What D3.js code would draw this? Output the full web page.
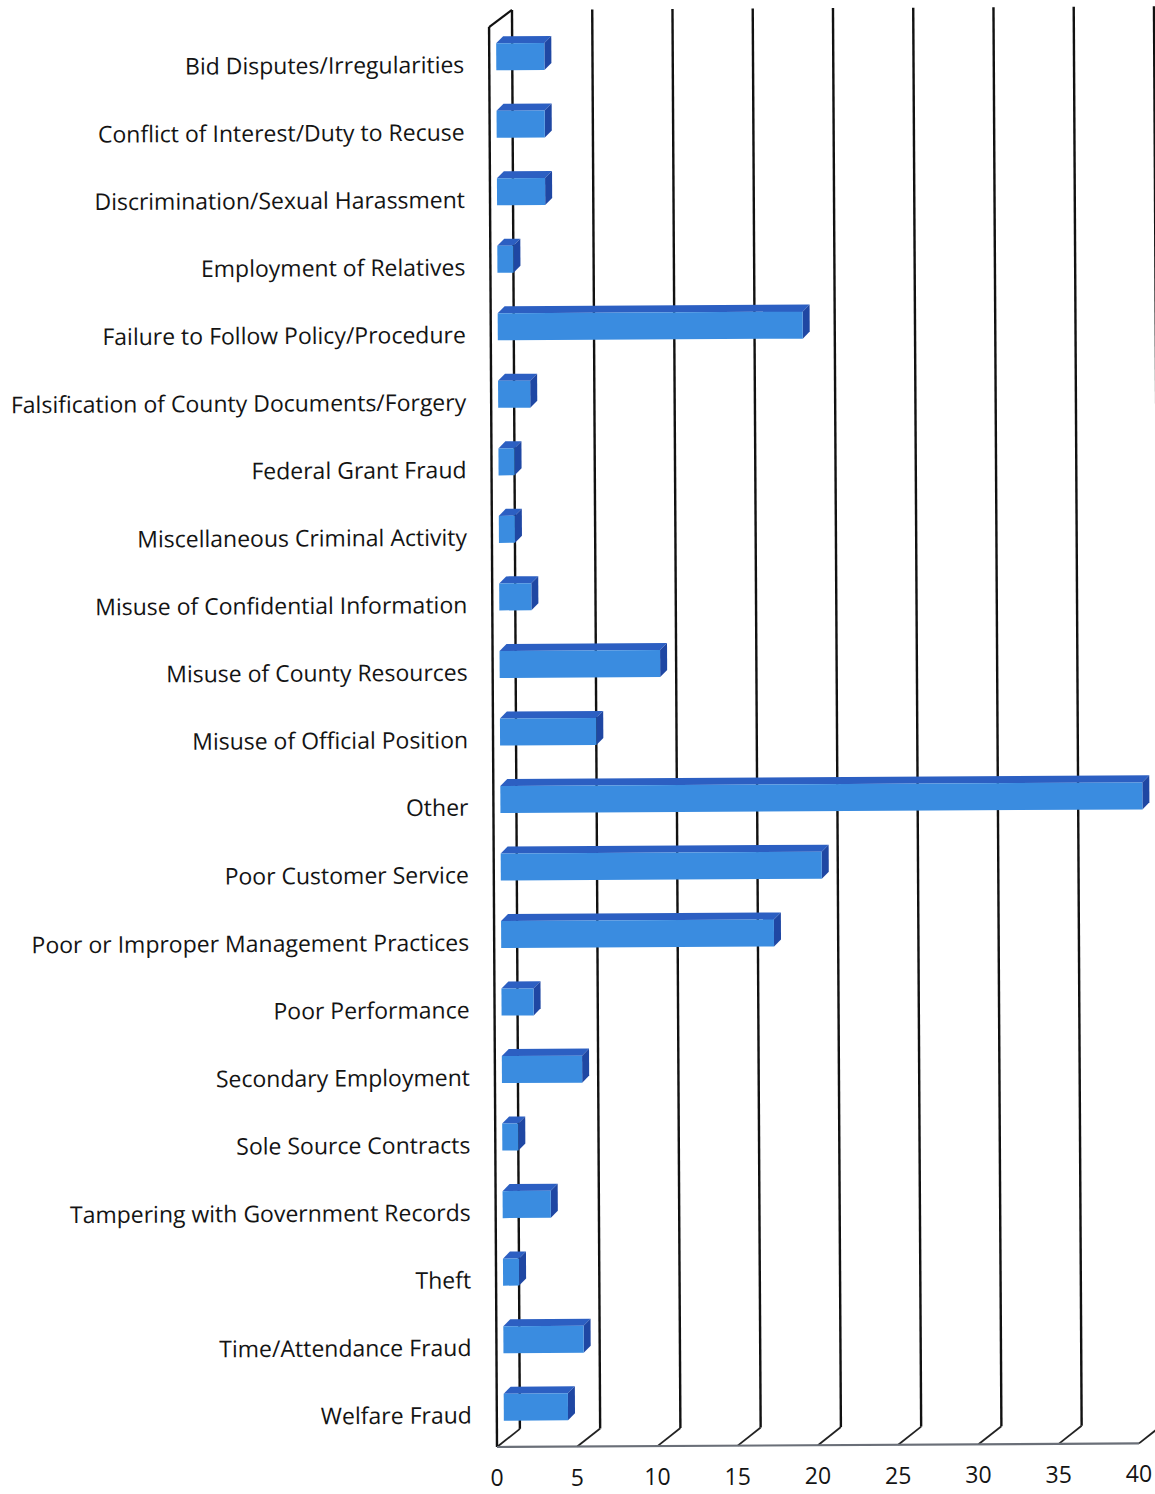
<!DOCTYPE html>
<html>
<head>
<meta charset="utf-8">
<script src="https://cdnjs.cloudflare.com/ajax/libs/d3/7.8.5/d3.min.js"></script>
<style>
  body { margin: 0; background: #fff; }
  .cat { font-family: "Open Sans", Lato, sans-serif; font-size: 23px; fill: #141414; }
  .tick-lbl { font-family: "Open Sans", Lato, sans-serif; font-size: 23px; fill: #141414; }
</style>
</head>
<body>
<div class="plot"></div>
<script>
// categories, top to bottom
const categories = [
  "Bid Disputes/Irregularities",
  "Conflict of Interest/Duty to Recuse",
  "Discrimination/Sexual Harassment",
  "Employment of Relatives",
  "Failure to Follow Policy/Procedure",
  "Falsification of County Documents/Forgery",
  "Federal Grant Fraud",
  "Miscellaneous Criminal Activity",
  "Misuse of Confidential Information",
  "Misuse of County Resources",
  "Misuse of Official Position",
  "Other",
  "Poor Customer Service",
  "Poor or Improper Management Practices",
  "Poor Performance",
  "Secondary Employment",
  "Sole Source Contracts",
  "Tampering with Government Records",
  "Theft",
  "Time/Attendance Fraud",
  "Welfare Fraud"
];
const counts = [3, 3, 3, 1, 19, 2, 1, 1, 2, 10, 6, 40, 20, 17, 2, 5, 1, 3, 1, 5, 4];
const tickValues = [0, 5, 10, 15, 20, 25, 30, 35, 40];

const W = 1155, H = 1494;
// wall depth (back wall sits up and right of the floor front edge)
const wallDx = 23, wallDy = -18;
// bar depth
const barDx = 7, barDy = -7;
// bars stand a little behind the floor front edge
const barShift = 7;
// scan tilt in degrees
const tilt = -0.32;

let svg = d3.select(".plot")
  .append("svg")
  .attr("width", W)
  .attr("height", H);

// whole plot slightly tilted like the scanned page
let g = svg.append("g")
  .attr("transform", "translate(497,1447) rotate(" + tilt + ")");

let xScale = d3.scaleLinear()
  .domain([0, 40])
  .range([0, 642]);

let yScale = d3.scaleBand()
  .domain(categories)
  .range([-1424, -6])
  .paddingInner(0.6)
  .paddingOuter(0.3);

// back wall gridlines + floor diagonals
let grid = g.append("g").attr("class", "grid");
tickValues.forEach(function(t){
  let x = xScale(t);
  grid.append("line")
    .attr("x1", x + wallDx).attr("x2", x + wallDx)
    .attr("y1", -1437).attr("y2", wallDy)
    .attr("stroke", "#111").attr("stroke-width", 2.4);
  grid.append("line")
    .attr("x1", x + wallDx).attr("y1", wallDy)
    .attr("x2", x).attr("y2", 0)
    .attr("stroke", "#222").attr("stroke-width", 1.8);
});

// left side wall
grid.append("line")
  .attr("x1", 0).attr("x2", 0)
  .attr("y1", -1420).attr("y2", 0)
  .attr("stroke", "#111").attr("stroke-width", 2.4);
grid.append("line")
  .attr("x1", 0).attr("y1", -1420)
  .attr("x2", wallDx).attr("y2", -1437)
  .attr("stroke", "#111").attr("stroke-width", 2.2);

// floor front edge
grid.append("line")
  .attr("x1", 0).attr("x2", xScale(40))
  .attr("y1", 0).attr("y2", 0)
  .attr("stroke", "#6a6f78").attr("stroke-width", 2.2);

// bars
let bars = g.selectAll(".bar")
  .data(categories.map(function(c, i){ return {name: c, value: counts[i]}; }))
  .enter()
  .append("g")
  .attr("class", "bar");

bars.each(function(d){
  let b = d3.select(this);
  let x0 = xScale(0) + barShift, x1 = xScale(d.value) + barShift;
  let y0 = yScale(d.name), h = yScale.bandwidth();
  // top face
  b.append("path")
    .attr("d", "M" + x0 + "," + y0 + "L" + (x0 + barDx) + "," + (y0 + barDy) +
               "L" + (x1 + barDx) + "," + (y0 + barDy) + "L" + x1 + "," + y0 + "Z")
    .attr("fill", "#2c5fc2");
  // side face
  b.append("path")
    .attr("d", "M" + x1 + "," + y0 + "L" + (x1 + barDx) + "," + (y0 + barDy) +
               "L" + (x1 + barDx) + "," + (y0 + barDy + h) + "L" + x1 + "," + (y0 + h) + "Z")
    .attr("fill", "#1f47a3");
  // front face
  b.append("rect")
    .attr("x", x0).attr("y", y0)
    .attr("width", x1 - x0).attr("height", h)
    .attr("fill", "#3a8ce0");
});

// category labels
g.selectAll(".cat")
  .data(categories)
  .enter()
  .append("text")
  .attr("class", "cat")
  .attr("x", -25)
  .attr("y", function(d){ return yScale(d) + yScale.bandwidth() / 2 + 8; })
  .attr("dy", "0.35em")
  .attr("text-anchor", "end")
  .text(function(d){ return d; });

// value axis labels (kept upright, following the tilt of the floor edge)
let slope = Math.tan(tilt * Math.PI / 180);
svg.append("g")
  .attr("transform", "translate(497,1447)")
  .selectAll(".tick-lbl")
  .data(tickValues)
  .enter()
  .append("text")
  .attr("class", "tick-lbl")
  .attr("x", function(d){ return xScale(d); })
  .attr("y", function(d){ return 31 + xScale(d) * slope; })
  .attr("dy", "0.35em")
  .attr("text-anchor", "middle")
  .text(function(d){ return d; });
</script>
</body>
</html>
